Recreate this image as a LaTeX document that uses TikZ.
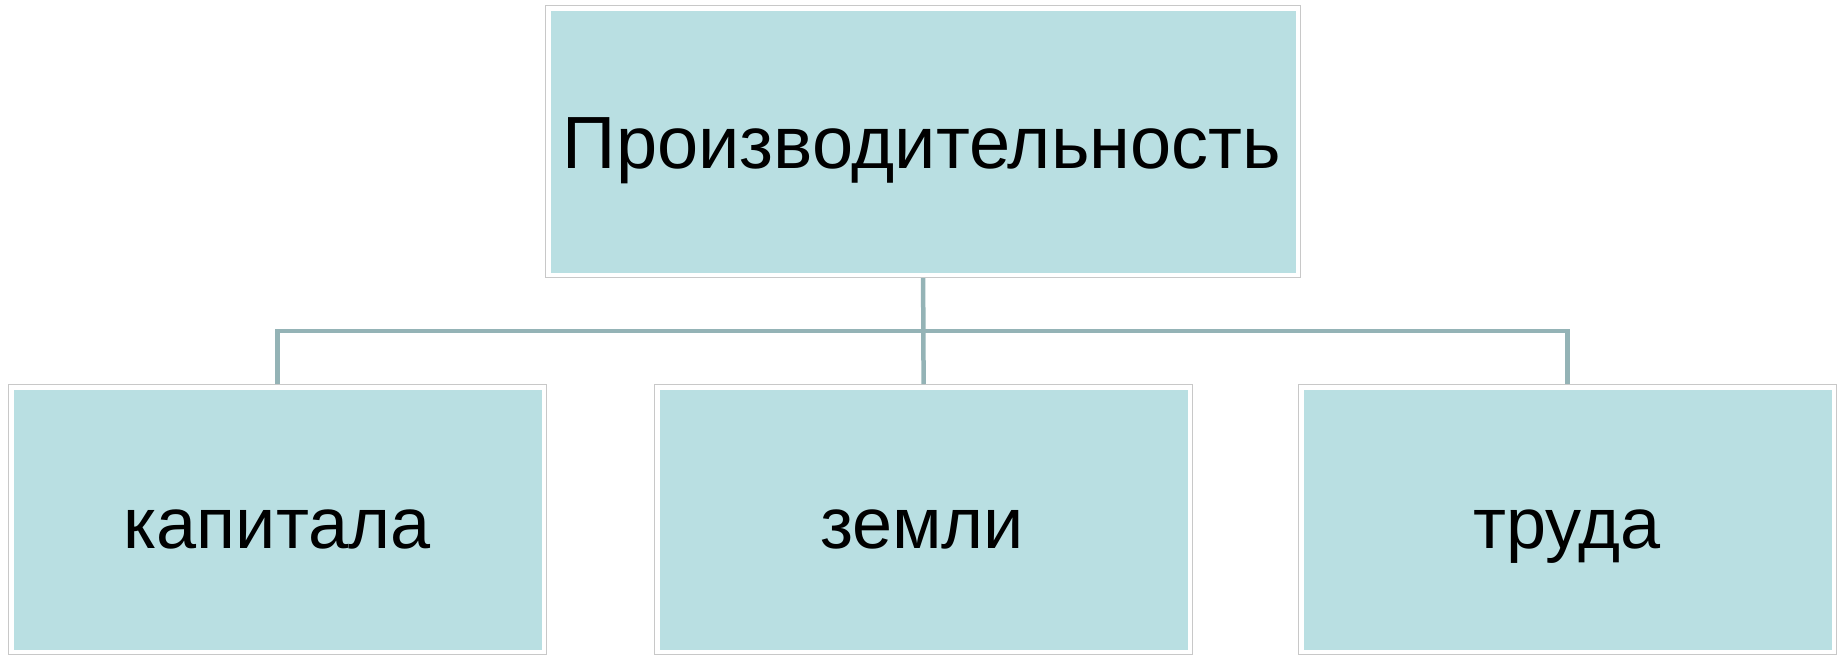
\documentclass[tikz,border=0pt]{standalone}
\usepackage{fontspec}
\setmainfont{Liberation Sans}
\definecolor{boxfill}{HTML}{B9DFE2}
\definecolor{boxline}{HTML}{C8C8C8}
\definecolor{conn}{HTML}{94B3B6}
\begin{document}
\begin{tikzpicture}[x=1pt,y=-1pt,
  box/.style={draw=boxline, line width=1.2pt, fill=white, inner sep=0pt, anchor=north west,
    path picture={\fill[boxfill] ([shift={(5pt,5pt)}]path picture bounding box.south west) rectangle ([shift={(-5pt,-5pt)}]path picture bounding box.north east);}},
  lbl/.style={anchor=base, inner sep=0pt},
  link/.style={draw=conn, line width=4.5pt}]
\useasboundingbox (0,0) rectangle (1839,656);
\node[box, minimum width=755pt, minimum height=272pt] (top) at (545,5) {};
\node[box, minimum width=538pt, minimum height=270pt] (left) at (8,384) {};
\node[box, minimum width=538pt, minimum height=270pt] (mid) at (654,384) {};
\node[box, minimum width=538pt, minimum height=270pt] (right) at (1298,384) {};
\coordinate (bus) at (922,331);
\draw[link] (top.south) -- (mid.north);
\draw[link] (left.north) |- (bus) -| (right.north);
\node[lbl, font=\fontsize{74}{80}\selectfont] (ttop) at (922,168) {Производительность};
\node[lbl, font=\fontsize{72}{80}\selectfont] (tleft) at (277,548) {капитала};
\node[lbl, font=\fontsize{72}{80}\selectfont] (tmid) at (922,548) {земли};
\node[lbl, font=\fontsize{72}{80}\selectfont] (tright) at (1567,548) {труда};
\end{tikzpicture}
\end{document}
